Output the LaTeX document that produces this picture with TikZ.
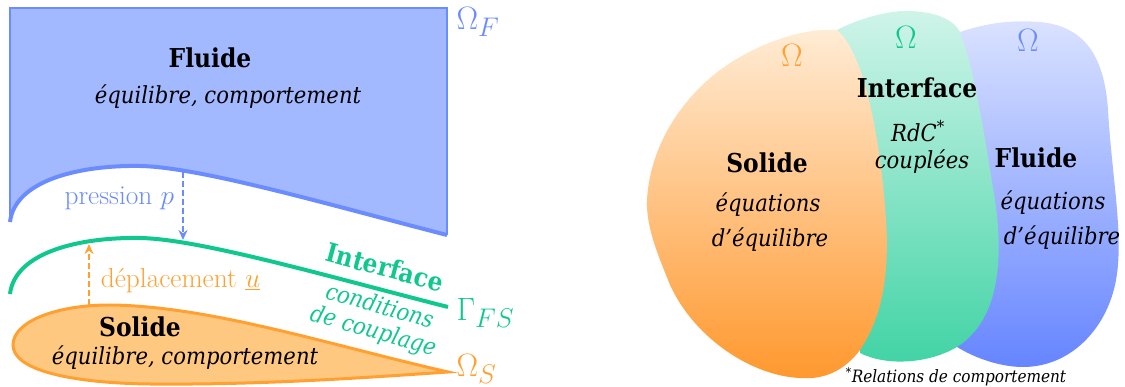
\documentclass[tikz,border=0pt]{standalone}
\usepackage{fontspec}
\setmainfont{DejaVuSerifCondensed}[Extension=.ttf, BoldFont=*-Bold, ItalicFont=*-Italic, BoldItalicFont=*-BoldItalic]
\newfontfamily\lmfont{Latin Modern Roman}
\usetikzlibrary{arrows.meta}
\definecolor{fblue}{HTML}{6B8CFF}
\definecolor{fbluefill}{HTML}{A3B9FF}
\definecolor{igreen}{HTML}{10C88E}
\definecolor{sorange}{HTML}{FFA030}
\definecolor{sorangefill}{HTML}{FFC880}
\tikzset{
  titre/.style={font=\fontsize{26}{30}\selectfont\bfseries},
  sous/.style={font=\fontsize{23.5}{27}\selectfont\itshape},
  lab/.style={font=\lmfont\fontsize{24.88}{28}\selectfont, scale=1.1},
  omeg/.style={font=\fontsize{24.88}{28}\selectfont, scale=1.3},
  dasharrow/.style={dash pattern=on 6pt off 3pt, line width=2pt, -{Stealth[length=10pt,width=9pt]}},
}
\begin{document}
\begin{tikzpicture}[x=1pt,y=-1pt]
\useasboundingbox (0,0) rectangle (1125,387);
% ---------- left panel ----------
% fluid
\fill[fbluefill] (10,222) -- (10,8) -- (447,8) -- (447,235)
  .. controls (330,205) and (200,167) .. (140,166)
  .. controls (80,165) and (15,180) .. (10,222) -- cycle;
\draw[fblue, line width=2pt] (10,222) -- (10,8) -- (447,8) -- (447,235);
\draw[fblue, line width=4pt] (10,222) .. controls (15,180) and (80,165) .. (140,166)
  .. controls (200,167) and (330,205) .. (447,235);
% interface
\draw[igreen, line width=4pt] (10,294) .. controls (15,252) and (80,237) .. (140,238)
  .. controls (200,239) and (330,277) .. (448,307);
% solid
\draw[sorange, fill=sorangefill, line width=3pt] (448,372)
  .. controls (330,345) and (210,306) .. (110,305)
  .. controls (55,305) and (13,322) .. (13,345)
  .. controls (13,370) and (70,383) .. (150,384)
  .. controls (260,385) and (360,378) .. (448,372) -- cycle;
% coordinates for arrows
\coordinate (pA) at (183,172);
\coordinate (pB) at (183,240);
\coordinate (uA) at (89,305);
\coordinate (uB) at (89,244);
\draw[dasharrow, fblue] (pA) -- (pB);
\draw[dasharrow, sorange] (uA) -- (uB);
% texts
\node[titre] (fluideL) at (210,58) {Fluide};
\node[sous] (fluideLs) at (228,97) {équilibre, comportement};
\node[lab, text=fblue, anchor=east] (pression) at (178,198) {pression $p$};
\node[lab, text=sorange, anchor=west] (depl) at (97,281) {déplacement $\underline{u}$};
\node[titre, text=igreen, rotate=-15, inner sep=0pt] (interL) at (385,267) {Interface};
\node[sous, text=igreen, rotate=-16, inner sep=0pt] (condL) at (380,305) {conditions};
\node[sous, text=igreen, rotate=-16, inner sep=0pt] (coupL) at (373,332) {de couplage};
\node[titre] (solideL) at (140,327) {Solide};
\node[sous] (solideLs) at (185,358) {équilibre, comportement};
\node[omeg, text=fblue, anchor=west] (omF) at (452,22) {$\Omega_F$};
\node[omeg, text=igreen, anchor=west] (gFS) at (452,313) {$\Gamma_{FS}$};
\node[omeg, text=sorange, anchor=west] (omS) at (452,369) {$\Omega_S$};
% ---------- right panel ----------
% blue blob
\shade[top color=fblue!25!white, bottom color=fblue!95!blue]
  (960,32) .. controls (990,22) and (1015,20) .. (1040,22)
  .. controls (1080,26) and (1104,50) .. (1108,110)
  .. controls (1112,180) and (1125,240) .. (1115,285)
  .. controls (1105,330) and (1070,367) .. (1023,367)
  .. controls (1000,367) and (975,358) .. (957,347)
  -- (940,200) -- cycle;
% green blob
\shade[top color=igreen!20!white, bottom color=igreen!80!white]
  (837,30) .. controls (860,18) and (890,10) .. (910,11)
  .. controls (940,12) and (955,22) .. (960,32)
  .. controls (975,70) and (985,140) .. (995,200)
  .. controls (1005,270) and (995,320) .. (960,345)
  .. controls (935,362) and (890,368) .. (860,353)
  -- cycle;
% orange blob
\shade[top color=sorange!20!white, bottom color=sorange!95!red]
  (837,30) .. controls (862,50) and (880,130) .. (886,220)
  .. controls (890,280) and (880,320) .. (860,350)
  .. controls (845,370) and (825,380) .. (800,378)
  .. controls (750,376) and (690,335) .. (668,280)
  .. controls (656,250) and (646,225) .. (647,200)
  .. controls (650,140) and (690,85) .. (740,57)
  .. controls (770,40) and (805,28) .. (837,30) -- cycle;
\node[omeg, text=sorange] (omO) at (792,55) {$\Omega$};
\node[omeg, text=igreen] (omG) at (906,37) {$\Omega$};
\node[omeg, text=fblue] (omB) at (1028,40) {$\Omega$};
\node[titre] (interR) at (917,88) {Interface};
\node[sous] (rdc) at (918,131) {RdC\textsuperscript{*}};
\node[sous] (coupR) at (922,162) {couplées};
\node[titre] (solideR) at (767,163) {Solide};
\node[sous] (eqS) at (768,205) {équations};
\node[sous] (eqS2) at (770,240) {d’équilibre};
\node[titre] (fluideR) at (1036,158) {Fluide};
\node[sous] (eqF) at (1053,203) {équations};
\node[sous] (eqF2) at (1062,238) {d’équilibre};
\node[font=\fontsize{17}{20}\selectfont\itshape] (foot) at (956,377) {\textsuperscript{*}Relations de comportement};
\end{tikzpicture}
\end{document}
